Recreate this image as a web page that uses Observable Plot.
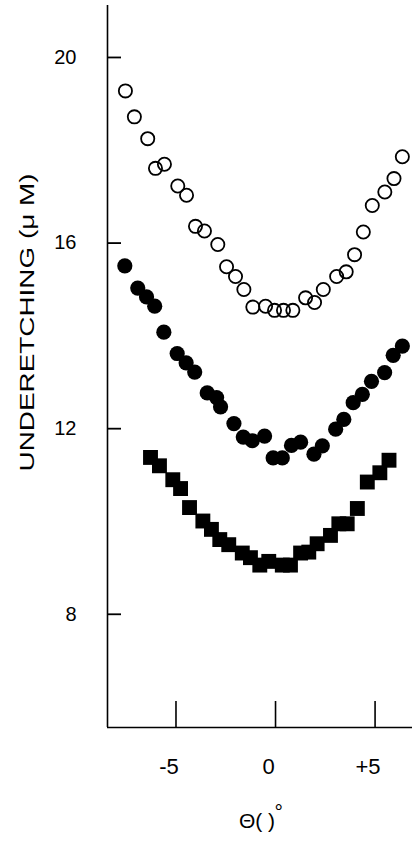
<!DOCTYPE html>
<html><head><meta charset="utf-8">
<script src="https://cdn.jsdelivr.net/npm/d3@7"></script>
<script src="https://cdn.jsdelivr.net/npm/@observablehq/plot@0.6"></script>
<style>body{margin:0;background:#fff} svg{display:block}</style>
</head><body><div id="chart"></div>
<script>
// Open circles (top series)
const openTheta = [-7.54,-7.09,-6.42,-6.03,-5.58,-4.91,-4.47,-4.02,-3.57,-2.90,-2.46,-2.01,-1.59,-1.14,-0.50,-0.05,0.40,0.87,1.51,1.96,2.40,3.07,3.55,3.97,4.41,4.86,5.49,5.95,6.37];
const openValue = [19.28,18.72,18.25,17.61,17.70,17.23,17.03,16.36,16.26,15.97,15.49,15.28,15.00,14.62,14.64,14.55,14.55,14.55,14.82,14.72,15.00,15.28,15.38,15.75,16.24,16.81,17.10,17.39,17.86];
// Filled circles (middle series)
const filledTheta = [-7.57,-6.92,-6.48,-6.07,-5.61,-4.94,-4.49,-4.06,-3.43,-2.96,-2.76,-2.09,-1.62,-1.17,-0.55,-0.12,0.34,0.80,1.26,1.93,2.35,3.02,3.43,3.90,4.36,4.82,5.48,5.91,6.37];
const filledValue = [15.51,15.03,14.84,14.64,14.08,13.62,13.42,13.22,12.77,12.67,12.47,12.11,11.82,11.74,11.84,11.37,11.37,11.64,11.71,11.45,11.63,11.99,12.20,12.56,12.74,13.02,13.21,13.58,13.78];
// Filled squares (bottom series)
const squareTheta = [-6.28,-5.83,-5.16,-4.77,-4.32,-3.65,-3.22,-2.80,-2.35,-1.67,-1.26,-0.79,-0.34,0.34,0.75,1.26,1.67,2.09,2.76,3.18,3.60,4.11,4.61,5.24,5.70];
const squareValue = [11.38,11.20,10.90,10.71,10.30,10.01,9.83,9.61,9.50,9.32,9.22,9.06,9.14,9.06,9.06,9.32,9.34,9.52,9.70,9.95,9.95,10.28,10.85,11.05,11.32];

const xDomain = [-8.44, 6.88];
const yDomain = [5.56, 21.12];
const xTicks = [-5, 0, 5];
const xTickLabels = ["-5", "0", "+5"];
const yTicks = [8, 12, 16, 20];
const yTitle = ["UNDERETCHING (μ M)"];
const xTitle = ["Θ( )"];
const xTitleSup = ["°"];

const rows = (xs, ys) => xs.map((x, i) => ({theta: x, value: ys[i]}));

const chart = Plot.plot({
  width: 412, height: 841,
  marginLeft: 107, marginRight: 0, marginTop: 5, marginBottom: 114,
  style: {background: "white", color: "black", fontFamily: "'Liberation Sans', Arial, sans-serif"},
  x: {domain: xDomain, axis: null},
  y: {domain: yDomain, axis: null},
  marks: [
    Plot.ruleX([xDomain[0]], {stroke: "black", strokeWidth: 1.6}),
    Plot.ruleY([yDomain[0]], {stroke: "black", strokeWidth: 1.6}),
    Plot.tickY(yTicks, {y: d => d, insetRight: 291, stroke: "black", strokeWidth: 1.8}),
    Plot.axisY(yTicks, {anchor: "left", tickSize: 0, tickPadding: 31, fontSize: 20, label: null, tickFormat: d => String(d)}),
    Plot.axisX(xTicks, {tickSize: -26, tickFormat: () => "", label: null, strokeWidth: 1.6}),
    Plot.axisX(xTicks, {tickSize: 0, tickPadding: 31, fontSize: 22, label: null, dx: -7,
      tickFormat: d => xTickLabels[xTicks.indexOf(d)]}),
    Plot.dot(rows(openTheta, openValue), {x: "theta", y: "value", r: 6.6, stroke: "black", strokeWidth: 1.8, fill: "none"}),
    Plot.dot(rows(filledTheta, filledValue), {x: "theta", y: "value", r: 7.6, fill: "black", stroke: "none"}),
    Plot.dot(rows(squareTheta, squareValue), {x: "theta", y: "value", symbol: "square", r: 8.4, fill: "black", stroke: "none"}),
    Plot.text(yTitle, {frameAnchor: "left", rotate: -90, dx: -80, dy: -44, fontSize: 21, textAnchor: "middle"}),
    Plot.text(xTitle, {frameAnchor: "bottom", dx: -3, dy: 100, fontSize: 21, textAnchor: "middle"}),
    Plot.text(xTitleSup, {frameAnchor: "bottom", dx: 14.5, dy: 91, fontSize: 21, textAnchor: "start"})
  ]
});

d3.select(chart).selectAll("text")
  .filter(function() { return this.textContent === yTitle[0]; })
  .attr("textLength", 298)
  .attr("lengthAdjust", "spacingAndGlyphs");

document.getElementById("chart").appendChild(chart);
</script>
</body></html>
